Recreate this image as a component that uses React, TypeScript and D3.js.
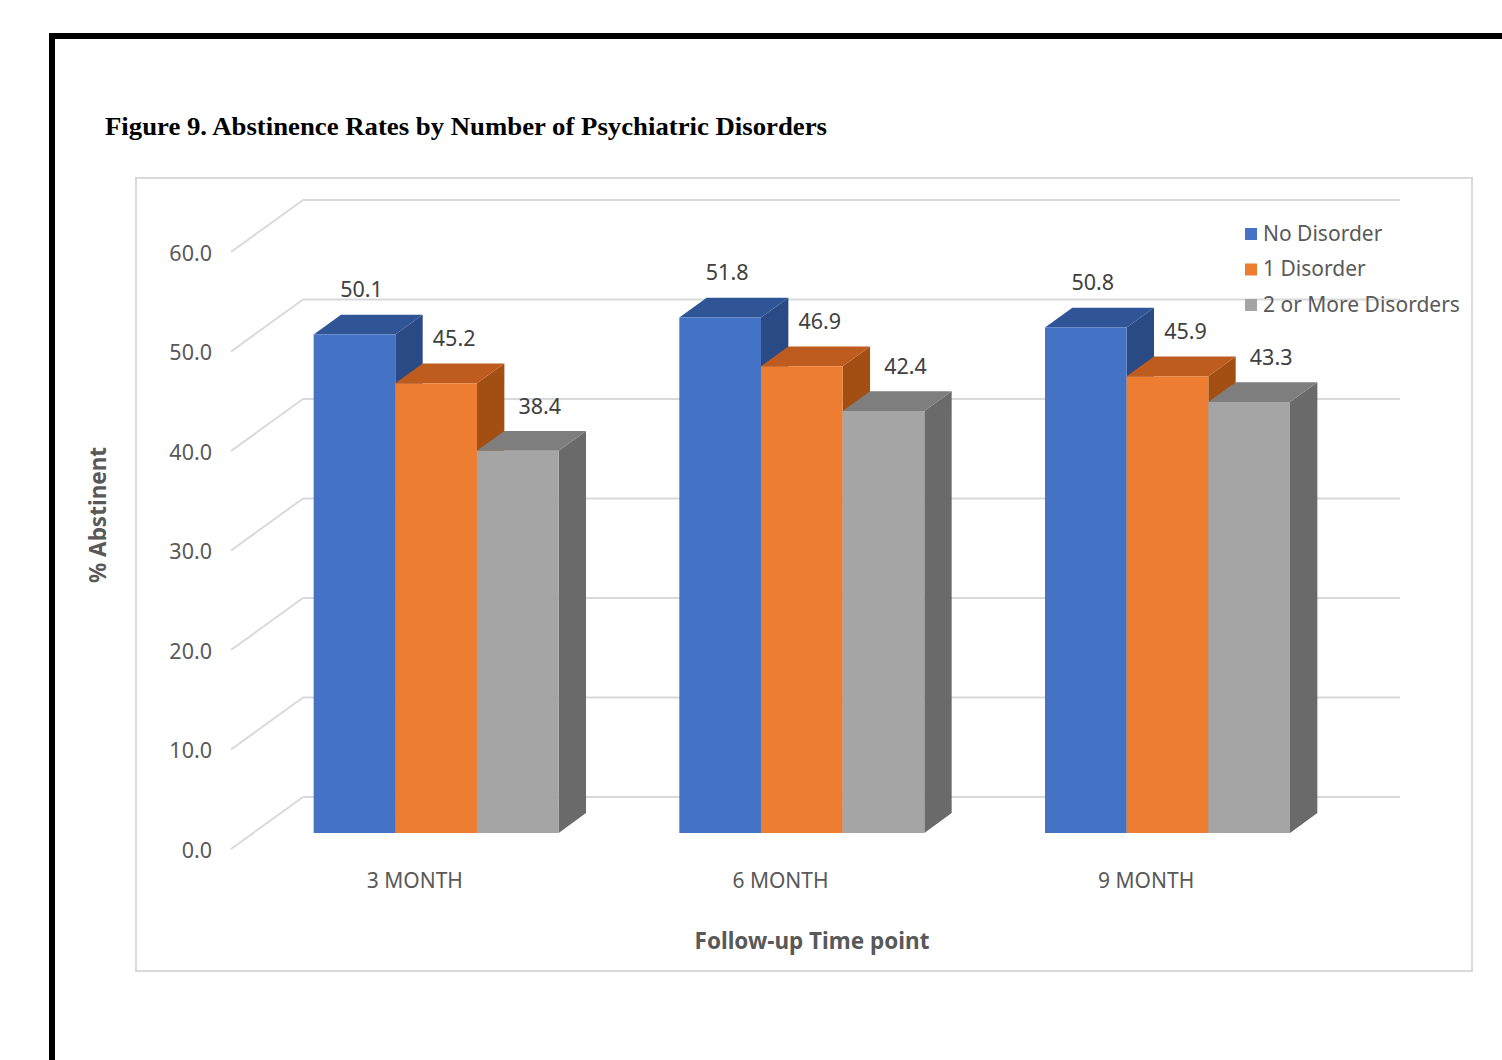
import React from "react";
import * as d3 from "d3";

const categories = ["3 MONTH", "6 MONTH", "9 MONTH"];
const seriesNames = ["No Disorder", "1 Disorder", "2 or More Disorders"];
const noDisorder = [50.1, 51.8, 50.8];
const oneDisorder = [45.2, 46.9, 45.9];
const twoOrMore = [38.4, 42.4, 43.3];
const yTicks = [0, 10, 20, 30, 40, 50, 60];

const seriesValues = [noDisorder, oneDisorder, twoOrMore];
const faceColors = [
  { front: "#4472C4", top: "#2F5597", side: "#2A4A85" },
  { front: "#ED7D31", top: "#BE5B1E", side: "#A34F14" },
  { front: "#A5A5A5", top: "#7E7E7E", side: "#6A6A6A" },
];

const W = 1502;
const H = 1060;
const FONT = "'Noto Sans', 'Open Sans', sans-serif";

export default function App() {
  const depthX = 72;
  const depthY = 52;
  const zFront = 0.31;
  const zBack = 0.69;
  const labelShift = [7, 18, 22];

  const y = d3.scaleLinear().domain([0, 60]).range([849, 252]);
  const x = d3
    .scaleBand<string>()
    .domain(categories)
    .range([231, 1328])
    .paddingInner(0.33)
    .paddingOuter(0.165);
  const xs = d3
    .scaleBand<string>()
    .domain(seriesNames)
    .range([0, x.bandwidth()]);

  const proj = (px: number, v: number, z: number): [number, number] => [
    px + z * depthX,
    y(v) - z * depthY,
  ];
  const poly = (pts: [number, number][]) =>
    pts.map((p) => p.join(",")).join(" ");

  const bars: React.ReactNode[] = [];
  const labels: React.ReactNode[] = [];
  categories.forEach((cat, ci) => {
    seriesNames.forEach((s, si) => {
      const v = seriesValues[si][ci];
      const x0 = (x(cat) as number) + (xs(s) as number);
      const x1 = x0 + xs.bandwidth();
      const c = faceColors[si];
      const f00 = proj(x0, 0, zFront);
      const f10 = proj(x1, 0, zFront);
      const f0v = proj(x0, v, zFront);
      const f1v = proj(x1, v, zFront);
      const b00 = proj(x0, v, zBack);
      const b1v = proj(x1, v, zBack);
      const b10 = proj(x1, 0, zBack);
      bars.push(
        <g key={`${ci}-${si}`}>
          <polygon points={poly([f10, f1v, b1v, b10])} fill={c.side} />
          <polygon points={poly([f0v, f1v, b1v, b00])} fill={c.top} />
          <polygon points={poly([f00, f10, f1v, f0v])} fill={c.front} />
        </g>
      );
      const lx = (f0v[0] + f1v[0]) / 2 + labelShift[si];
      const ly = b1v[1] - 23;
      labels.push(
        <text
          key={`l-${ci}-${si}`}
          x={lx}
          y={ly}
          textAnchor="middle"
          dominantBaseline="middle"
          fontSize={21.5}
          fill="#404040"
          fontFamily={FONT}
        >
          {v.toFixed(1)}
        </text>
      );
    });
  });

  const backRight = 1400;

  return (
    <svg
      width={W}
      height={H}
      viewBox={`0 0 ${W} ${H}`}
      style={{ position: "absolute", left: 0, top: 0, background: "#fff" }}
    >
      <rect x={0} y={0} width={W} height={H} fill="#fff" />
      <rect
        x={52}
        y={36}
        width={W}
        height={H}
        fill="none"
        stroke="#000"
        strokeWidth={6}
      />
      <text
        x={105}
        y={135}
        fontFamily="'Liberation Serif', 'Times New Roman', serif"
        fontWeight="bold"
        fontSize={25}
        textLength={722}
        lengthAdjust="spacingAndGlyphs"
        fill="#000"
      >
        Figure 9. Abstinence Rates by Number of Psychiatric Disorders
      </text>
      <rect
        x={136}
        y={178}
        width={1336}
        height={793}
        fill="#fff"
        stroke="#d9d9d9"
        strokeWidth={2}
      />
      {yTicks.map((t) => {
        const f = proj(231, t, 0);
        const b = proj(231, t, 1);
        return (
          <g key={t}>
            <line
              x1={f[0]}
              y1={f[1]}
              x2={b[0]}
              y2={b[1]}
              stroke="#d9d9d9"
              strokeWidth={2}
            />
            <line
              x1={b[0]}
              y1={b[1]}
              x2={backRight}
              y2={b[1]}
              stroke="#d9d9d9"
              strokeWidth={2}
            />
            <text
              x={212}
              y={f[1] + 3}
              textAnchor="end"
              dominantBaseline="middle"
              fontSize={21.5}
              fill="#595959"
              fontFamily={FONT}
            >
              {t.toFixed(1)}
            </text>
          </g>
        );
      })}
      {bars}
      {labels}
      {categories.map((cat) => (
        <text
          key={cat}
          x={(x(cat) as number) + x.bandwidth() / 2 + 1}
          y={882}
          textAnchor="middle"
          dominantBaseline="middle"
          fontSize={21}
          fill="#595959"
          fontFamily={FONT}
        >
          {cat}
        </text>
      ))}
      <text
        x={812}
        y={943}
        textAnchor="middle"
        dominantBaseline="middle"
        fontSize={22.5}
        fontWeight="bold"
        fill="#595959"
        fontFamily={FONT}
      >
        Follow-up Time point
      </text>
      <text
        transform="translate(100,515) rotate(-90)"
        textAnchor="middle"
        dominantBaseline="middle"
        fontSize={22.5}
        fontWeight="bold"
        fill="#595959"
        fontFamily={FONT}
      >
        % Abstinent
      </text>
      {seriesNames.map((s, i) => (
        <g key={s} transform={`translate(1245, ${234 + i * 35.5})`}>
          <rect x={0} y={-6} width={12} height={12} fill={faceColors[i].front} />
          <text
            x={18}
            y={1}
            dominantBaseline="middle"
            fontSize={21}
            fill="#595959"
            fontFamily={FONT}
          >
            {s}
          </text>
        </g>
      ))}
    </svg>
  );
}
